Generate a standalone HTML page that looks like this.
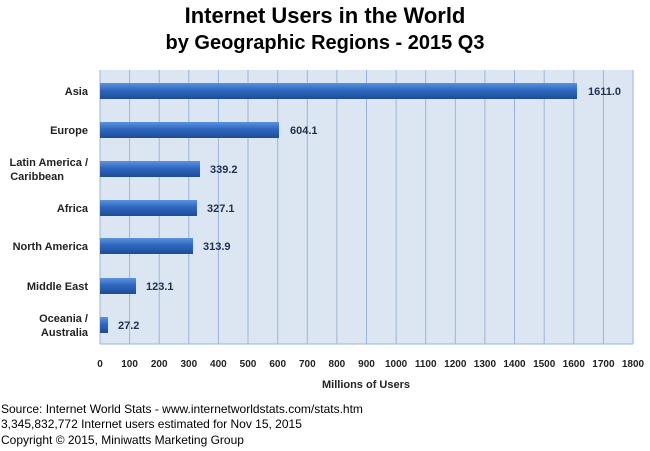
<!DOCTYPE html>
<html><head><style>
body{margin:0;background:#fff;width:650px;height:451px;overflow:hidden}
svg{display:block}
</style></head><body>
<svg width="650" height="451" xmlns="http://www.w3.org/2000/svg" font-family="Liberation Sans, Arial, sans-serif">
<defs>
<linearGradient id="g" x1="0" y1="0" x2="0" y2="1">
<stop offset="0" stop-color="#5a93dc"/><stop offset="0.45" stop-color="#2f67c0"/><stop offset="1" stop-color="#1d4c96"/>
</linearGradient>
</defs>
<text x="325" y="23" text-anchor="middle" font-size="22" font-weight="bold" fill="#000">Internet Users in the World</text>
<text x="325" y="49" text-anchor="middle" font-size="20" font-weight="bold" fill="#000">by Geographic Regions - 2015 Q3</text>
<rect x="100" y="70" width="533" height="274" fill="#dce6f2"/>
<g stroke="#9ab4dc" stroke-width="1">
<line x1="129.6" y1="70" x2="129.6" y2="344"/><line x1="159.2" y1="70" x2="159.2" y2="344"/><line x1="188.8" y1="70" x2="188.8" y2="344"/><line x1="218.4" y1="70" x2="218.4" y2="344"/><line x1="248" y1="70" x2="248" y2="344"/><line x1="277.7" y1="70" x2="277.7" y2="344"/><line x1="307.3" y1="70" x2="307.3" y2="344"/><line x1="336.9" y1="70" x2="336.9" y2="344"/><line x1="366.5" y1="70" x2="366.5" y2="344"/><line x1="396.1" y1="70" x2="396.1" y2="344"/><line x1="425.7" y1="70" x2="425.7" y2="344"/><line x1="455.3" y1="70" x2="455.3" y2="344"/><line x1="484.9" y1="70" x2="484.9" y2="344"/><line x1="514.5" y1="70" x2="514.5" y2="344"/><line x1="544.2" y1="70" x2="544.2" y2="344"/><line x1="573.8" y1="70" x2="573.8" y2="344"/><line x1="603.4" y1="70" x2="603.4" y2="344"/><line x1="633" y1="70" x2="633" y2="344"/>
<line x1="100" y1="344" x2="633" y2="344"/>
<line x1="100" y1="70" x2="100" y2="344"/>
</g>
<g fill="url(#g)">
<rect x="100" y="83" width="477" height="16"/>
<rect x="100" y="122" width="179" height="16"/>
<rect x="100" y="161" width="100" height="16"/>
<rect x="100" y="200" width="97" height="16"/>
<rect x="100" y="238" width="93" height="16"/>
<rect x="100" y="278" width="36" height="16"/>
<rect x="100" y="317" width="8" height="16"/>
</g>
<g font-size="11" font-weight="bold" fill="#1f3050">
<text x="588" y="95">1611.0</text>
<text x="290" y="134">604.1</text>
<text x="210" y="173">339.2</text>
<text x="207" y="212">327.1</text>
<text x="203" y="250">313.9</text>
<text x="146" y="290">123.1</text>
<text x="118" y="329">27.2</text>
</g>
<g font-size="11" font-weight="bold" fill="#222" text-anchor="end">
<text x="88" y="95">Asia</text>
<text x="88" y="134">Europe</text>
<text x="88" y="166">Latin America /</text>
<text x="64" y="180">Caribbean</text>
<text x="88" y="212">Africa</text>
<text x="88" y="250">North America</text>
<text x="88" y="290">Middle East</text>
<text x="88" y="322">Oceania  /</text>
<text x="88" y="336">Australia</text>
</g>
<g font-size="10" font-weight="bold" fill="#222" text-anchor="middle">
<text x="100" y="367">0</text><text x="129.6" y="367">100</text><text x="159.2" y="367">200</text><text x="188.8" y="367">300</text><text x="218.4" y="367">400</text><text x="248" y="367">500</text><text x="277.7" y="367">600</text><text x="307.3" y="367">700</text><text x="336.9" y="367">800</text><text x="366.5" y="367">900</text><text x="396.1" y="367">1000</text><text x="425.7" y="367">1100</text><text x="455.3" y="367">1200</text><text x="484.9" y="367">1300</text><text x="514.5" y="367">1400</text><text x="544.2" y="367">1500</text><text x="573.8" y="367">1600</text><text x="603.4" y="367">1700</text><text x="633" y="367">1800</text>
</g>
<text x="366" y="388" text-anchor="middle" font-size="11" font-weight="bold" fill="#222">Millions of Users</text>
<g font-size="12" fill="#000">
<text x="1" y="413">Source: Internet World Stats - www.internetworldstats.com/stats.htm</text>
<text x="1" y="428">3,345,832,772 Internet users estimated for Nov 15, 2015</text>
<text x="1" y="444">Copyright © 2015, Miniwatts Marketing Group</text>
</g>
</svg>
</body></html>
